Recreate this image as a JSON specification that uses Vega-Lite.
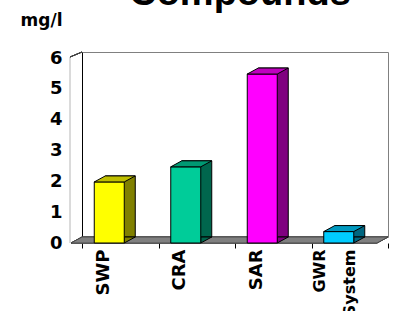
{
  "$schema": "https://vega.github.io/schema/vega-lite/v6.json",
  "width": 306,
  "height": 185,
  "autosize": {"type": "none"},
  "padding": {"left": 82, "top": 52, "right": 5, "bottom": 74},
  "background": "white",
  "title": {"text": "Compounds", "font": "Liberation Sans", "fontSize": 38, "fontWeight": "bold", "color": "black", "anchor": "middle", "dx": 5, "offset": -32, "baseline": "alphabetic"},
  "config": {
    "font": "DejaVu Sans",
    "view": {"stroke": "#808080", "strokeWidth": 1},
    "axisX": {"title": null, "offset": 6, "domain": false, "ticks": true, "tickBand": "extent", "tickSize": 5, "tickColor": "black", "tickOffset": -11, "labelOffset": {"condition": {"test": "datum.value == 'GWR System'", "value": -30}, "value": -17}, "labelAngle": 270, "labelAlign": "right", "labelBaseline": "middle", "labelPadding": 1, "labelFont": "DejaVu Sans", "labelFontSize": {"condition": {"test": "datum.value == 'GWR System'", "value": 16}, "value": 18}, "labelFontWeight": "bold", "labelColor": "black", "labelLineHeight": 30, "labelOverlap": false, "labelBound": false, "labelFlush": false, "labelExpr": "datum.label == 'GWR System' ? ['GWR', 'System'] : datum.label"},
    "axisY": {"titleAngle": 0, "titleX": -41, "titleY": -27, "titleAlign": "center", "titleBaseline": "alphabetic", "titleFont": "DejaVu Sans", "titleFontSize": 17, "titleFontWeight": "bold", "titleColor": "black", "grid": false, "ticks": false, "tickSize": 0, "domainColor": "black", "domainWidth": 1, "labelFont": "DejaVu Sans", "labelFontSize": 18, "labelFontWeight": "bold", "labelColor": "black", "labelPadding": 20, "labelOffset": 6, "labelFlush": false, "labelOverlap": false, "labelBound": false}
  },
  "data": {"values": [
    {"compound": "SWP", "mgl": 1.98},
    {"compound": "CRA", "mgl": 2.47},
    {"compound": "SAR", "mgl": 5.48},
    {"compound": "GWR System", "mgl": 0.37}
  ]},
  "encoding": {
    "x": {"field": "compound", "type": "nominal", "sort": null, "scale": {"domain": ["SWP", "CRA", "SAR", "GWR System"], "paddingInner": 0, "paddingOuter": 0}},
    "y": {"field": "mgl", "type": "quantitative", "title": "mg/l", "scale": {"domain": [0, 6], "nice": false}, "axis": {"values": [0, 1, 2, 3, 4, 5, 6]}}
  },
  "layer": [
    {
      "mark": {"type": "point", "shape": "M-50.25,5L-50.25,191", "size": 4, "filled": false, "stroke": "#d8d8d8", "strokeWidth": 1, "opacity": 1},
      "encoding": {"x": {"datum": "SWP", "type": "nominal"}, "y": {"datum": 6, "type": "quantitative"}}
    },
    {
      "mark": {"type": "point", "shape": "M-38.25,0L-50.25,5", "size": 4, "filled": false, "stroke": "#404040", "strokeWidth": 1, "opacity": 1},
      "encoding": {"x": {"datum": "SWP", "type": "nominal"}, "y": {"datum": 6, "type": "quantitative"}}
    },
    {
      "mark": {"type": "point", "shape": "M-114.75,0L191.25,0L180.25,6L-125.75,6Z", "size": 4, "filled": true, "fill": "#808080", "stroke": "#404040", "strokeWidth": 0.8, "opacity": 1},
      "encoding": {"x": {"datum": "CRA", "type": "nominal"}, "y": {"datum": 0, "type": "quantitative"}}
    },
    {
      "mark": {"type": "bar", "width": 30, "stroke": "black", "strokeWidth": 1},
      "encoding": {"color": {"field": "compound", "type": "nominal", "sort": null, "legend": null, "scale": {"domain": ["SWP", "CRA", "SAR", "GWR System"], "range": ["#808000", "#00664D", "#800080", "#006680"]}}}
    },
    {
      "mark": {"type": "point", "shape": "M4,0L15,0L4,6Z", "size": 4, "filled": true, "stroke": "black", "strokeWidth": 1, "opacity": 1},
      "encoding": {"y": {"datum": 0, "type": "quantitative"}, "color": {"field": "compound", "type": "nominal", "sort": null, "legend": null, "scale": {"domain": ["SWP", "CRA", "SAR", "GWR System"], "range": ["#808000", "#00664D", "#800080", "#006680"]}}}
    },
    {
      "mark": {"type": "bar", "width": 30, "xOffset": -11, "yOffset": 6, "y2Offset": 6, "stroke": "black", "strokeWidth": 1},
      "encoding": {"color": {"field": "compound", "type": "nominal", "sort": null, "legend": null, "scale": {"domain": ["SWP", "CRA", "SAR", "GWR System"], "range": ["#FFFF00", "#00CC99", "#FF00FF", "#00CCFF"]}}}
    },
    {
      "mark": {"type": "point", "shape": "M-15,0L15,0L4,6L-26,6Z", "size": 4, "filled": true, "stroke": "black", "strokeWidth": 1, "opacity": 1},
      "encoding": {"color": {"field": "compound", "type": "nominal", "sort": null, "legend": null, "scale": {"domain": ["SWP", "CRA", "SAR", "GWR System"], "range": ["#BFBF00", "#009973", "#BF00BF", "#0099BF"]}}}
    }
  ],
  "resolve": {"scale": {"color": "independent"}}
}
